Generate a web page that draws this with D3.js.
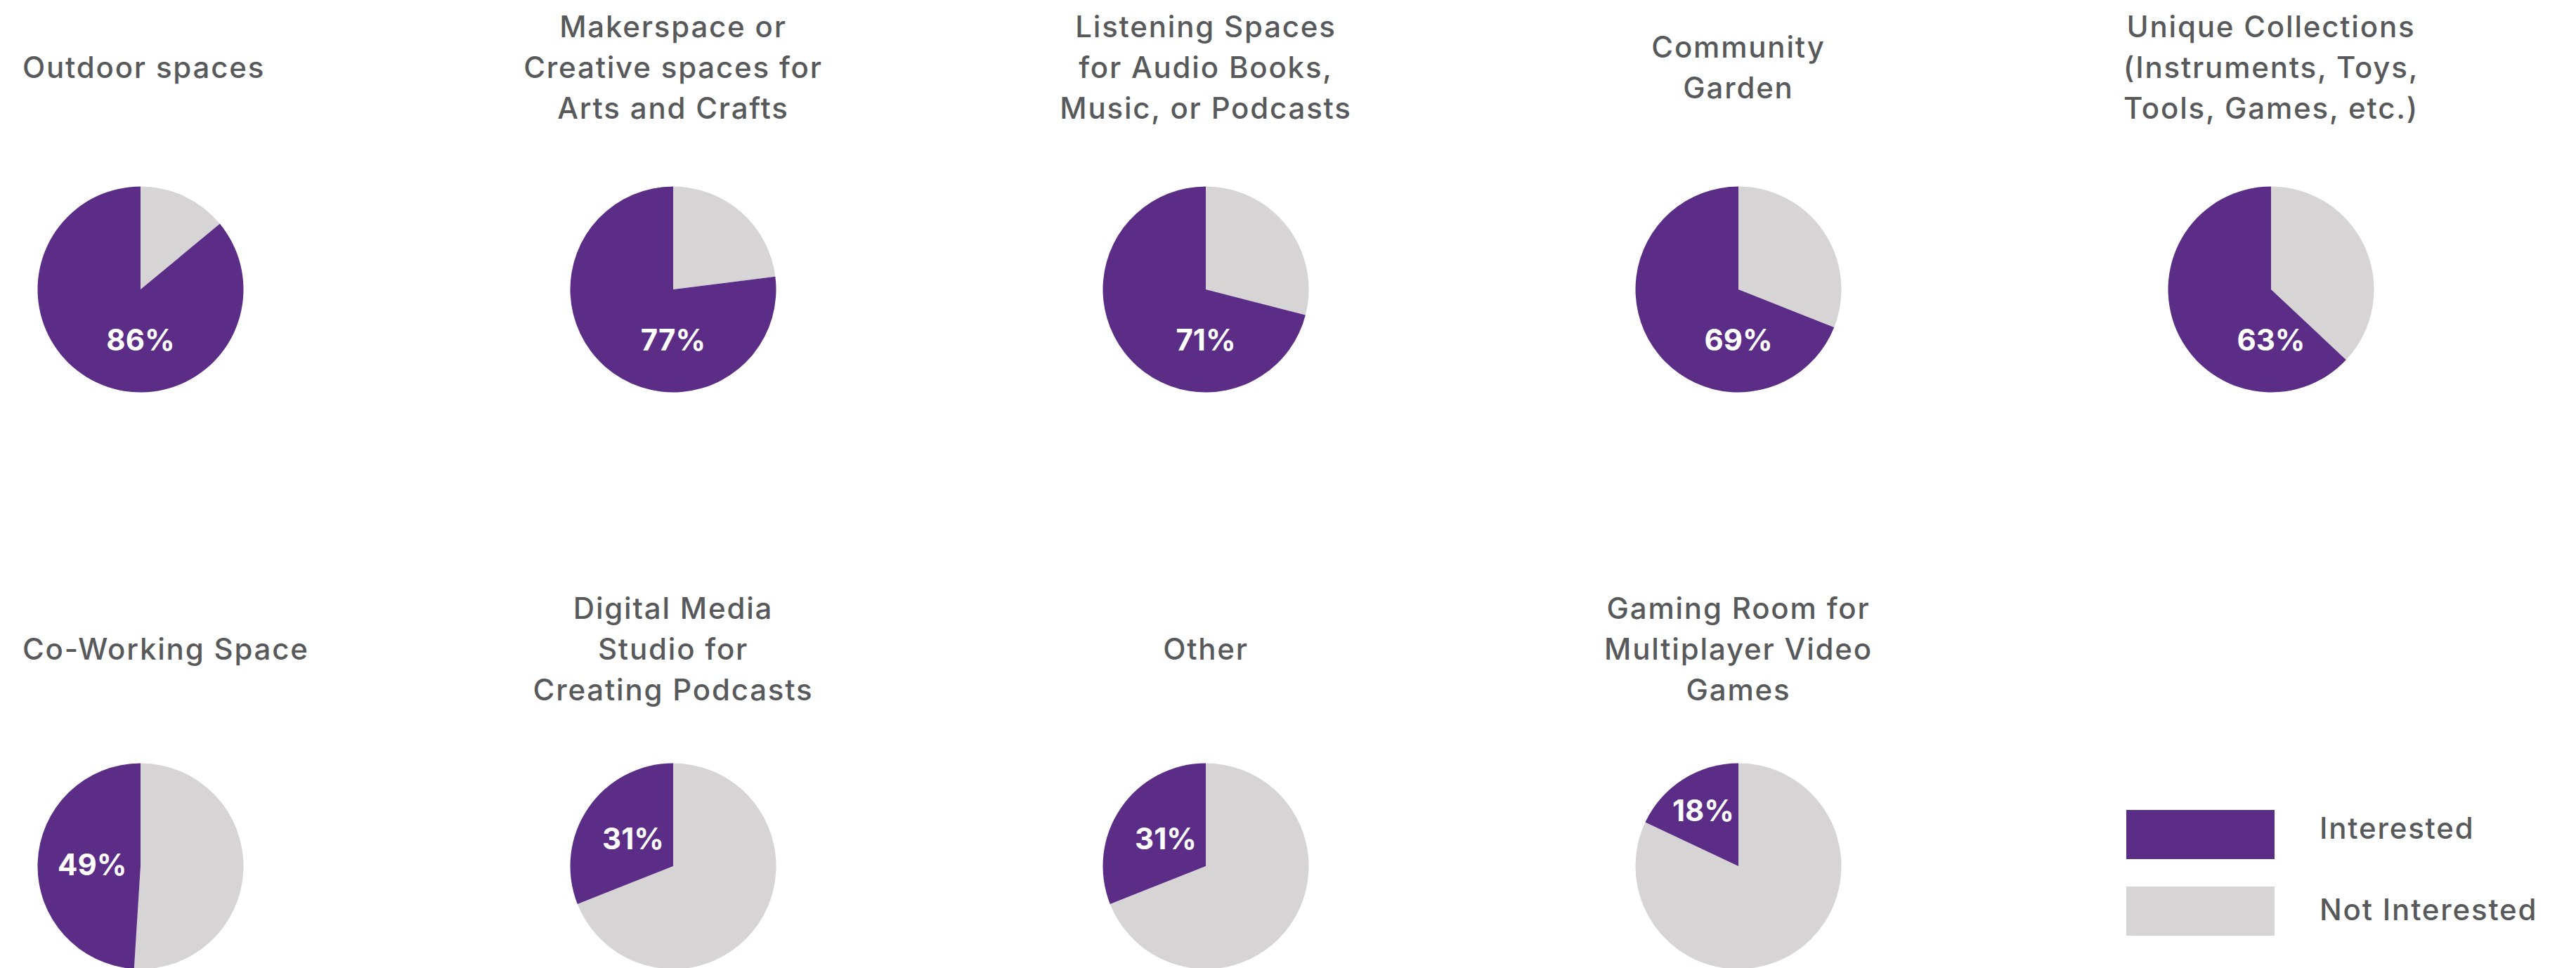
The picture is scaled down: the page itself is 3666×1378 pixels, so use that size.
<!DOCTYPE html>
<html>
<head>
<meta charset="utf-8">
<script src="https://cdn.jsdelivr.net/npm/d3@7"></script>
<style>
  html, body { margin: 0; padding: 0; background: #ffffff; }
  svg { display: block; }
</style>
</head>
<body>
<svg id="chart" width="3666" height="1378"></svg>
<script>
// ---------------- data ----------------
const categories = [
  "Outdoor spaces",
  "Makerspace or Creative spaces for Arts and Crafts",
  "Listening Spaces for Audio Books, Music, or Podcasts",
  "Community Garden",
  "Unique Collections (Instruments, Toys, Tools, Games, etc.)",
  "Co-Working Space",
  "Digital Media Studio for Creating Podcasts",
  "Other",
  "Gaming Room for Multiplayer Video Games"
];
const titleLines = [
  ["Outdoor spaces"],
  ["Makerspace or", "Creative spaces for", "Arts and Crafts"],
  ["Listening Spaces", "for Audio Books,", "Music, or Podcasts"],
  ["Community", "Garden"],
  ["Unique Collections", "(Instruments, Toys,", "Tools, Games, etc.)"],
  ["Co-Working Space"],
  ["Digital Media", "Studio for", "Creating Podcasts"],
  ["Other"],
  ["Gaming Room for", "Multiplayer Video", "Games"]
];
const interested    = [86, 77, 71, 69, 63, 49, 31, 31, 18];
const notInterested = [14, 23, 29, 31, 37, 51, 69, 69, 82];
const seriesNames   = ["Interested", "Not Interested"];

// ---------------- styling / layout ----------------
const W = 3666, H = 1378;
const PURPLE = "#5b2d86", GREY = "#d6d4d5", TEXT = "#58595b";
const FONT = "Inter, 'Open Sans', 'Noto Sans', sans-serif";
const R = 146.5;
const nCols = 5;
const colX = d3.scaleLinear().domain([0, nCols - 1]).range([200, 3232]);
const pieY = d3.scaleLinear().domain([0, 1]).range([412, 1233]);
const titleMidY = d3.scaleLinear().domain([0, 1]).range([111, 939]);
const lineH = 58.3;
const titleSize = 42, labelSize = 42, titleSpacing = "1.8px";
const minLeft = 32;   // titles are kept this far from the left edge

const color = d3.scaleOrdinal().domain(seriesNames).range([PURPLE, GREY]);

const svg = d3.select("#chart");
svg.append("rect").attr("width", W).attr("height", H).attr("fill", "#fff");

const pie = d3.pie().sort(null).value(d => d.value);
const arc = d3.arc().innerRadius(0).outerRadius(R);

categories.forEach((cat, i) => {
  const col = i % nCols, row = Math.floor(i / nCols);
  const cx = colX(col), cy = pieY(row);
  const g = svg.append("g").attr("class", "chart").attr("data-category", cat);

  // title
  const lines = titleLines[i];
  const t = g.append("text")
    .attr("text-anchor", "middle")
    .attr("font-family", FONT)
    .attr("font-weight", 500)
    .attr("font-size", titleSize)
    .attr("letter-spacing", titleSpacing)
    .attr("fill", TEXT);
  lines.forEach((ln, k) => {
    t.append("tspan")
      .attr("x", cx)
      .attr("y", titleMidY(row) + (k - (lines.length - 1) / 2) * lineH)
      .text(ln);
  });
  const bb = t.node().getBBox();
  if (bb.x < minLeft) t.attr("transform", `translate(${minLeft - bb.x},0)`);

  // pie: Not Interested first (clockwise from 12 o'clock), then Interested
  const slices = pie([
    { key: seriesNames[1], value: notInterested[i] },
    { key: seriesNames[0], value: interested[i] }
  ]);
  const pg = g.append("g").attr("transform", `translate(${cx},${cy})`);
  pg.selectAll("path").data(slices).join("path")
    .attr("d", arc)
    .attr("fill", d => color(d.data.key));

  // label on the Interested slice
  const s = slices[1];
  const lbl = pg.append("text")
    .attr("text-anchor", "middle")
    .attr("font-family", FONT)
    .attr("font-weight", 700)
    .attr("font-size", labelSize)
    .attr("fill", "#ffffff")
    .attr("dy", "0.36em")
    .text(interested[i] + "%");
  const halfW = lbl.node().getComputedTextLength() / 2;
  let ang, dist;
  if (s.startAngle < Math.PI) {           // slice covers the bottom of the pie
    ang = Math.PI; dist = 0.49 * R;
  } else {
    ang = (s.startAngle + s.endAngle) / 2;
    const half = (s.endAngle - s.startAngle) / 2;
    dist = Math.max(0.47 * R, (halfW + 6) / Math.sin(Math.min(half, Math.PI / 2)));
  }
  lbl.attr("x", dist * Math.sin(ang)).attr("y", -dist * Math.cos(ang));
});

// legend
const legX = 3026, legY = 1153, legStep = 109, legTextY = 1179, legTextStep = 116;
const leg = svg.append("g").attr("class", "legend");
seriesNames.forEach((name, k) => {
  leg.append("rect")
    .attr("x", legX).attr("y", legY + k * legStep)
    .attr("width", 211).attr("height", 70)
    .attr("fill", color(name));
  leg.append("text")
    .attr("x", legX + 275).attr("y", legTextY + k * legTextStep)
    .attr("dy", "0.36em")
    .attr("font-family", FONT)
    .attr("font-weight", 500)
    .attr("font-size", titleSize)
    .attr("letter-spacing", titleSpacing)
    .attr("fill", TEXT)
    .text(name);
});
</script>
</body>
</html>
